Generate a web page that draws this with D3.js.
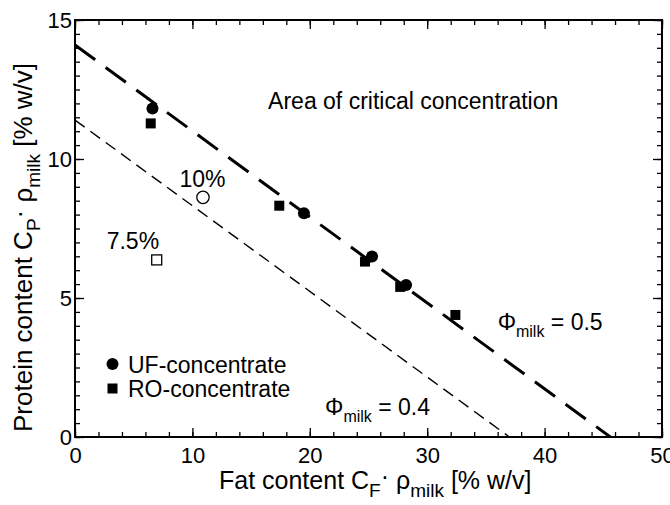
<!DOCTYPE html>
<html>
<head>
<meta charset="utf-8">
<script src="https://cdn.jsdelivr.net/npm/d3@7"></script>
<style>
  html, body { margin: 0; padding: 0; background: #fff; }
  svg { display: block; font-family: "Liberation Sans", Arial, Helvetica, sans-serif; }
</style>
</head>
<body>
<svg id="chart" width="670" height="505"></svg>
<script>
// ---- data ----
const xTickValues = [0, 10, 20, 30, 40, 50];
const yTickValues = [0, 5, 10, 15];
const ufFat = [6.6, 19.5, 25.3, 28.2];
const ufProtein = [11.82, 8.05, 6.49, 5.47];
const roFat = [6.45, 17.4, 24.7, 27.7, 32.4];
const roProtein = [11.28, 8.32, 6.31, 5.4, 4.39];
const refFat = [10.9, 6.96];
const refProtein = [8.62, 6.37];
const refLabels = ["10%", "7.5%"];
const lineNames = ["0.5", "0.4"];
const lineProteinIntercept = [14.1, 11.4];
const lineFatIntercept = [45.6, 37.0];
const legendLabels = ["UF-concentrate", "RO-concentrate"];

// ---- layout ----
const svg = d3.select("#chart");
const W = 670, H = 505;
const m = {left: 75, top: 20, right: 8, bottom: 68};
const x = d3.scaleLinear().domain([0, 50]).range([m.left, W - m.right]);
const y = d3.scaleLinear().domain([0, 15]).range([H - m.bottom, m.top]);

const xMinor = d3.range(0, 50.001, 2);
const yMinor = d3.range(0, 15.001, 0.5);

function styleAxis(g) {
  g.select(".domain").remove();
  g.selectAll(".tick line").attr("stroke", "#000").attr("stroke-width", 1.3);
  g.selectAll("text").attr("fill", "#000").style("font-size", "22px");
}

// minor ticks
svg.append("g").attr("transform", `translate(0,${y(0)})`)
  .call(d3.axisBottom(x).tickValues(xMinor).tickSize(-5).tickFormat(""))
  .call(styleAxis);
svg.append("g").attr("transform", `translate(0,${y(15)})`)
  .call(d3.axisTop(x).tickValues(xMinor).tickSize(-5).tickFormat(""))
  .call(styleAxis);
svg.append("g").attr("transform", `translate(${x(0)},0)`)
  .call(d3.axisLeft(y).tickValues(yMinor).tickSize(-5).tickFormat(""))
  .call(styleAxis);
svg.append("g").attr("transform", `translate(${x(50)},0)`)
  .call(d3.axisRight(y).tickValues(yMinor).tickSize(-5).tickFormat(""))
  .call(styleAxis);

// major ticks
svg.append("g").attr("transform", `translate(0,${y(0)})`)
  .call(d3.axisBottom(x).tickValues(xTickValues).tickSize(-9).tickPadding(10).tickFormat(d3.format("d")))
  .call(styleAxis);
svg.append("g").attr("transform", `translate(0,${y(15)})`)
  .call(d3.axisTop(x).tickValues(xTickValues).tickSize(-9).tickFormat(""))
  .call(styleAxis);
svg.append("g").attr("transform", `translate(${x(0)},0)`)
  .call(d3.axisLeft(y).tickValues(yTickValues).tickSize(-9).tickPadding(3).tickFormat(d3.format("d")))
  .call(styleAxis);
svg.append("g").attr("transform", `translate(${x(50)},0)`)
  .call(d3.axisRight(y).tickValues(yTickValues).tickSize(-9).tickFormat(""))
  .call(styleAxis);

// frame
svg.append("rect")
  .attr("x", x(0)).attr("y", y(15))
  .attr("width", x(50) - x(0)).attr("height", y(0) - y(15))
  .attr("fill", "none").attr("stroke", "#000").attr("stroke-width", 2);

// dashed lines
const lineStyles = [
  {w: 3, dash: "25,13"},
  {w: 1.4, dash: "12,7"}
];
lineNames.forEach((n, i) => {
  svg.append("line")
    .attr("x1", x(0)).attr("y1", y(lineProteinIntercept[i]))
    .attr("x2", x(lineFatIntercept[i])).attr("y2", y(0))
    .attr("stroke", "#000")
    .attr("stroke-width", lineStyles[i].w)
    .attr("stroke-dasharray", lineStyles[i].dash);
});

// points
svg.append("g").selectAll("circle").data(ufFat.map((f, i) => [f, ufProtein[i]]))
  .join("circle").attr("cx", d => x(d[0])).attr("cy", d => y(d[1])).attr("r", 6).attr("fill", "#000");
svg.append("g").selectAll("rect").data(roFat.map((f, i) => [f, roProtein[i]]))
  .join("rect").attr("x", d => x(d[0]) - 5).attr("y", d => y(d[1]) - 5)
  .attr("width", 10).attr("height", 10).attr("fill", "#000");
// reference open points
svg.append("circle").attr("cx", x(refFat[0])).attr("cy", y(refProtein[0])).attr("r", 6.2)
  .attr("fill", "#fff").attr("stroke", "#000").attr("stroke-width", 1.3);
svg.append("rect").attr("x", x(refFat[1]) - 5).attr("y", y(refProtein[1]) - 5)
  .attr("width", 10).attr("height", 10)
  .attr("fill", "#fff").attr("stroke", "#000").attr("stroke-width", 1.3);

// annotation text
const ann = svg.append("g").attr("fill", "#000").style("font-size", "23px");
ann.append("text").attr("x", x(8.9)).attr("y", y(9.0)).text(refLabels[0]);
ann.append("text").attr("x", x(2.7)).attr("y", y(6.78)).text(refLabels[1]);
ann.append("text").attr("x", x(16.45)).attr("y", y(11.8)).text("Area of critical concentration");

function phiLabel(px, py, val) {
  const t = ann.append("text").attr("x", px).attr("y", py);
  t.append("tspan").text("Φ");
  t.append("tspan").attr("dy", 7).style("font-size", "16px").text("milk");
  t.append("tspan").attr("dy", -7).text(" = " + val);
}
phiLabel(x(36.0), y(3.85), lineNames[0]);
phiLabel(x(21.3), y(0.8), lineNames[1]);

// legend
const leg = svg.append("g").style("font-size", "23px").attr("fill", "#000");
leg.append("circle").attr("cx", 112.5).attr("cy", 364).attr("r", 6).attr("fill", "#000");
leg.append("rect").attr("x", 107.5).attr("y", 383.5).attr("width", 10).attr("height", 10).attr("fill", "#000");
leg.append("text").attr("x", 128).attr("y", 373).text(legendLabels[0]);
leg.append("text").attr("x", 128).attr("y", 397).text(legendLabels[1]);

// axis titles
const xt = svg.append("text").attr("x", 219).attr("y", 489).attr("fill", "#000").style("font-size", "25px");
xt.append("tspan").text("Fat content C");
xt.append("tspan").attr("dy", 8).style("font-size", "19px").text("F");
xt.append("tspan").attr("dy", -12).text("·");
xt.append("tspan").attr("dy", 4).text(" ρ");
xt.append("tspan").attr("dy", 8).style("font-size", "19px").text("milk");
xt.append("tspan").attr("dy", -8).text(" [% w/v]");

const yt = svg.append("text").attr("transform", "translate(32,432) rotate(-90)").attr("fill", "#000").style("font-size", "26px");
yt.append("tspan").text("Protein content C");
yt.append("tspan").attr("dy", 8).style("font-size", "19px").text("P");
yt.append("tspan").attr("dy", -12).text("·");
yt.append("tspan").attr("dy", 4).text(" ρ");
yt.append("tspan").attr("dy", 8).style("font-size", "19px").text("milk");
yt.append("tspan").attr("dy", -8).text(" [% w/v]");
</script>
</body>
</html>
